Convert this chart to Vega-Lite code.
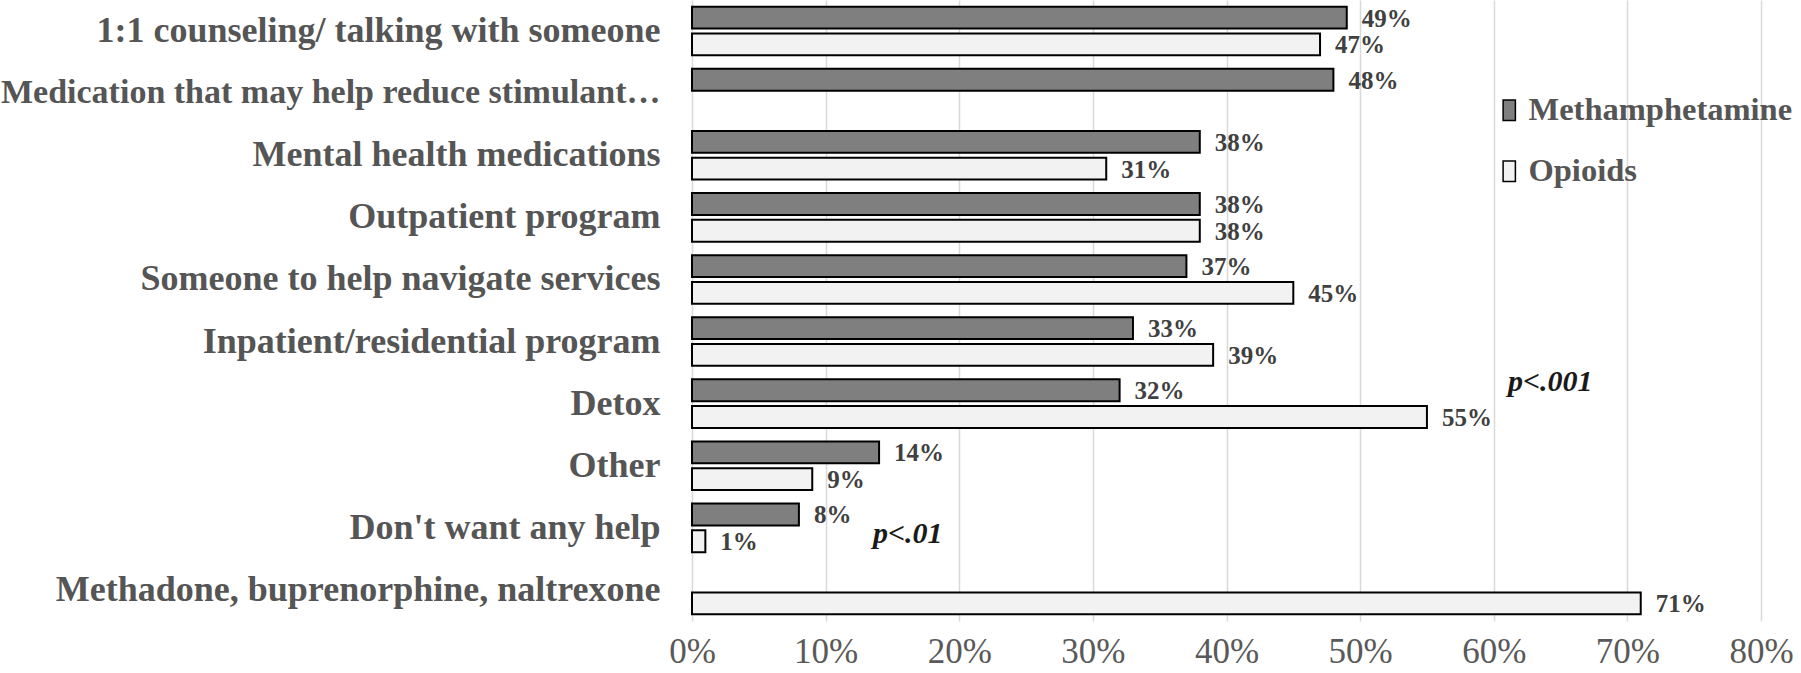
{
  "$schema": "https://vega.github.io/schema/vega-lite/v6.json",
  "autosize": {"type": "none"},
  "padding": {"left": 692, "top": 0, "right": 40, "bottom": 52},
  "width": 1069,
  "height": 621,
  "background": "white",
  "config": {
    "font": "Liberation Serif",
    "view": {"stroke": null}
  },
  "datasets": {
    "bars": [
      {"category": "1:1 counseling/ talking with someone", "group": "Methamphetamine", "value": 0.49},
      {"category": "1:1 counseling/ talking with someone", "group": "Opioids", "value": 0.47},
      {"category": "Medication that may help reduce stimulant…", "group": "Methamphetamine", "value": 0.48},
      {"category": "Mental health medications", "group": "Methamphetamine", "value": 0.38},
      {"category": "Mental health medications", "group": "Opioids", "value": 0.31},
      {"category": "Outpatient program", "group": "Methamphetamine", "value": 0.38},
      {"category": "Outpatient program", "group": "Opioids", "value": 0.38},
      {"category": "Someone to help navigate services", "group": "Methamphetamine", "value": 0.37},
      {"category": "Someone to help navigate services", "group": "Opioids", "value": 0.45},
      {"category": "Inpatient/residential program", "group": "Methamphetamine", "value": 0.33},
      {"category": "Inpatient/residential program", "group": "Opioids", "value": 0.39},
      {"category": "Detox", "group": "Methamphetamine", "value": 0.32},
      {"category": "Detox", "group": "Opioids", "value": 0.55},
      {"category": "Other", "group": "Methamphetamine", "value": 0.14},
      {"category": "Other", "group": "Opioids", "value": 0.09},
      {"category": "Don't want any help", "group": "Methamphetamine", "value": 0.08},
      {"category": "Don't want any help", "group": "Opioids", "value": 0.01},
      {"category": "Methadone, buprenorphine, naltrexone", "group": "Opioids", "value": 0.71}
    ]
  },
  "encoding": {
    "y": {
      "field": "category",
      "type": "nominal",
      "sort": [
        "1:1 counseling/ talking with someone",
        "Medication that may help reduce stimulant…",
        "Mental health medications",
        "Outpatient program",
        "Someone to help navigate services",
        "Inpatient/residential program",
        "Detox",
        "Other",
        "Don't want any help",
        "Methadone, buprenorphine, naltrexone"
      ],
      "scale": {"paddingInner": 0.1, "paddingOuter": 0.05},
      "axis": {
        "title": null,
        "domain": false,
        "ticks": false,
        "labelPadding": 32,
        "labelFontSize": {"condition": {"test": "indexof(datum.value, 'Medication') == 0", "value": 34}, "value": 36},
        "labelFontWeight": "bold",
        "labelColor": "#555555",
        "labelLimit": 800
      }
    }
  },
  "layer": [
    {
      "data": {"name": "bars"},
      "mark": {"type": "bar", "stroke": "black", "strokeWidth": 2},
      "encoding": {
        "x": {
          "field": "value",
          "type": "quantitative",
          "scale": {"domain": [0, 0.8], "nice": false},
          "axis": {
            "title": null,
            "format": ".0%",
            "values": [0, 0.1, 0.2, 0.3, 0.4, 0.5, 0.6, 0.7, 0.8],
            "domain": false,
            "ticks": false,
            "grid": true,
            "gridColor": "#d9d9d9",
            "gridWidth": 1.5,
            "labelFlush": false,
            "labelFontSize": 35,
            "labelColor": "#595959",
            "labelPadding": 13
          }
        },
        "yOffset": {
          "field": "group",
          "type": "nominal",
          "scale": {"domain": ["Methamphetamine", "Opioids"], "paddingInner": 0.185, "paddingOuter": 0.137}
        },
        "fill": {
          "field": "group",
          "type": "nominal",
          "scale": {"domain": ["Methamphetamine", "Opioids"], "range": ["#7f7f7f", "#f2f2f2"]},
          "legend": {
            "title": null,
            "orient": "none",
            "legendX": 801,
            "legendY": 94,
            "symbolType": "M-0.6,-1H0.6V1H-0.6Z",
            "symbolSize": 420,
            "symbolStrokeColor": "black",
            "symbolStrokeWidth": 1.5,
            "labelFontSize": 32.5,
            "labelFontWeight": "bold",
            "labelColor": "#555555",
            "labelOffset": 3,
            "labelLimit": 600,
            "rowPadding": 28
          }
        }
      }
    },
    {
      "data": {"name": "bars"},
      "mark": {"type": "text", "align": "left", "baseline": "middle", "dx": 15, "dy": 1, "fontSize": 25, "fontWeight": "bold", "color": "#404040"},
      "encoding": {
        "x": {"field": "value", "type": "quantitative"},
        "yOffset": {"field": "group", "type": "nominal"},
        "text": {"field": "value", "type": "quantitative", "format": ".0%"}
      }
    },
    {
      "data": {"values": [{"category": "Detox", "value": 0.55, "note": "p<.001"}]},
      "mark": {"type": "text", "align": "left", "baseline": "middle", "dx": 81, "dy": -22, "fontSize": 30, "fontWeight": "bold", "fontStyle": "italic", "color": "#1a1a1a"},
      "encoding": {
        "x": {"field": "value", "type": "quantitative"},
        "text": {"field": "note"}
      }
    },
    {
      "data": {"values": [{"category": "Don't want any help", "value": 0.08, "note": "p<.01"}]},
      "mark": {"type": "text", "align": "left", "baseline": "middle", "dx": 74, "dy": 6, "fontSize": 30, "fontWeight": "bold", "fontStyle": "italic", "color": "#1a1a1a"},
      "encoding": {
        "x": {"field": "value", "type": "quantitative"},
        "text": {"field": "note"}
      }
    }
  ]
}
